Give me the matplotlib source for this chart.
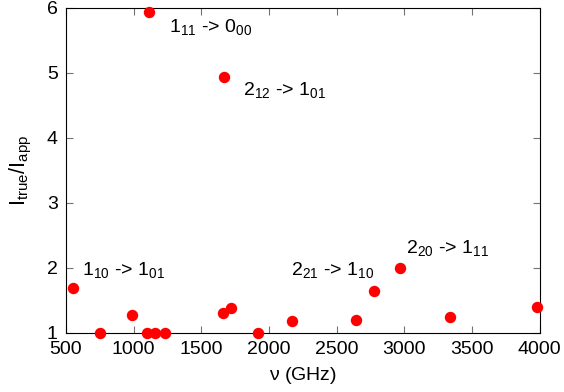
import matplotlib
matplotlib.use('Agg')
import matplotlib.pyplot as plt

plt.rcParams['font.family'] = ['Liberation Sans', 'DejaVu Sans']
plt.rcParams['mathtext.fontset'] = 'custom'
plt.rcParams['mathtext.rm'] = 'Liberation Sans'
plt.rcParams['mathtext.it'] = 'Liberation Sans'
plt.rcParams['mathtext.default'] = 'regular'

# frequency (GHz) and intensity ratio
freq = [554, 751, 990, 1096, 1157, 1231, 1113, 1660, 1669, 1719, 1920,
        2169, 2642, 2775, 2967, 3336, 3981]
ratio = [1.69, 1.0, 1.27, 1.0, 1.0, 1.0, 5.94, 1.31, 4.93, 1.38, 1.0,
         1.18, 1.19, 1.64, 2.0, 1.25, 1.39]

labels = [r'1$_{11}$ -> 0$_{00}$', r'2$_{12}$ -> 1$_{01}$', r'1$_{10}$ -> 1$_{01}$',
          r'2$_{21}$ -> 1$_{10}$', r'2$_{20}$ -> 1$_{11}$']
label_x = [1261, 1807, 618, 2162, 3011]
label_y = [5.71, 4.74, 1.97, 1.97, 2.31]

fig = plt.figure(figsize=(5.64, 3.92), dpi=100)
ax = fig.add_axes([0.117, 0.151, 0.840, 0.829])
ax.plot(freq, ratio, 'o', color='#ff0000', markersize=7.2, clip_on=False, zorder=3)

for t, x, y in zip(labels, label_x, label_y):
    ax.text(x, y, t, fontsize=14, ha='left', va='center')

ax.set_xlim(500, 4000)
ax.set_ylim(1, 6)
ax.set_xticks(range(500, 4001, 500))
ax.set_yticks(range(1, 7))
ax.tick_params(direction='in', top=True, right=True, labelsize=14, length=5, pad=6, color='0.45')
ax.set_xlabel(r'$\nu$ (GHz)', fontsize=14, labelpad=5)
ax.set_ylabel(r'I$_{true}$/I$_{app}$', fontsize=15.5, labelpad=9)

fig.savefig('out.png', dpi=100)
